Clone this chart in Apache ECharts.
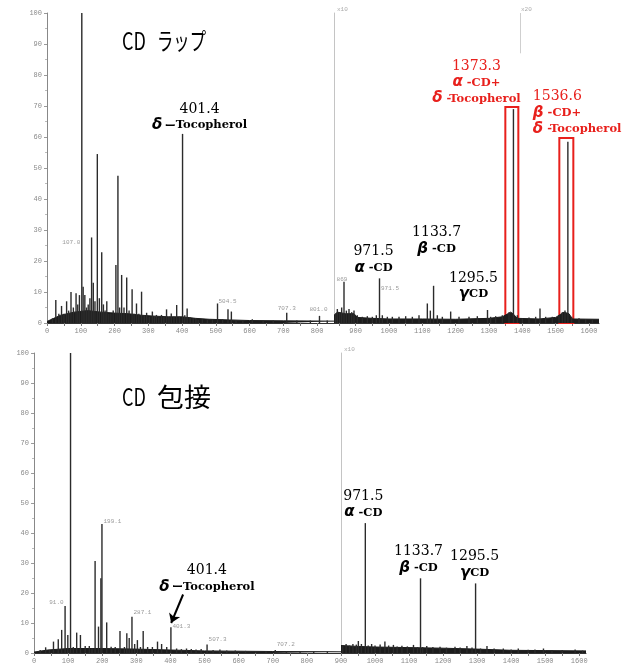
<!DOCTYPE html>
<html>
<head>
<meta charset="utf-8">
<script src="https://cdn.jsdelivr.net/npm/echarts@6/dist/echarts.min.js"></script>
<style>
html, body { margin: 0; padding: 0; background: #fff; }
#main { width: 632px; height: 666px; }
</style>
</head>
<body>
<div id="main"></div>
<script>
// peaks: [m/z, relative intensity %]
var topLeftPeaks = [
  [16,1.5],[26,7.4],[35,3],[43,5.5],[50,3],[58,7],[64,4],[71,10],[78,5],[86,9.6],[91,6],[96,9],
  [103,100],[107,11.7],[112,9],[117,5],[122,6],[127,8],[132,27.6],[137,13],[142,7],[149,54.5],
  [155,8],[162,22.8],[167,6],[172,4],[177,7],[183,3],[189,3],[196,4],[204,18.7],[210,47.5],
  [215,5],[221,15.5],[228,5],[236,14.7],[243,4],[252,10.9],[258,3],[265,6.3],[272,3],[280,10.1],
  [288,2.5],[295,3.3],[303,2],[312,3.7],[318,2],[324,2.6],[331,1.8],[339,2.6],[346,2],[354,4.4],
  [361,2],[368,3.1],[376,2],[384,5.8],[392,2],[401.4,61],[408,2.5],[415,4.7],[424,1.8],[433,1.5],
  [441,1.2],[448,1],[460,1.2],[475,1],[490,1.2],[505,6.3],[520,1.2],[536,4.4],[546,3.7],[560,1],
  [580,1],[608,1.2],[640,0.8],[670,0.8],[710,3.3],[740,0.8],[780,0.8],[807,2.3],[830,0.8]
];
var topRightPeaks = [
  [840,3],[845,4.5],[852,3.5],[858,5],[865,13.3],[872,4],[880,4.5],[888,3.5],[895,4],[905,2.5],
  [920,2],[935,2.2],[950,2],[962,2.5],[971.5,14.4],[980,2.5],[995,2],[1010,2],[1030,2],[1050,2.2],
  [1070,2],[1090,2.5],[1115,6.3],[1124,4],[1133.7,12],[1145,2.5],[1160,2],[1185,3.7],[1210,2],
  [1240,2],[1265,2.2],[1295.5,4.2],[1305,2],[1320,2.2],[1340,2.5],[1360,3.5],[1373.3,69],[1385,2.5],
  [1400,1.5],[1420,1.8],[1440,2],[1453,4.7],[1470,2],[1490,2],[1510,2.5],[1520,3.5],[1528,4],
  [1536.6,58.5],[1548,2],[1570,1.5],[1590,1.3],[1610,1.2]
];
var bottomLeftPeaks = [
  [18,1],[34,1.9],[45,1],[57,3.8],[71,4.6],[81,7.7],[91,15.7],[99,6],[107,100],[115,2],[125,6.8],
  [136,6],[150,2.3],[162,2.3],[170,1.5],[179,30.7],[189,8.8],[196,24.9],[199.1,43],[213,10.2],
  [226,2.1],[238,2],[252,7.3],[265,2],[272,6.6],[279,5],[287.1,12.1],[295,3],[303,4.3],[312,2],
  [320,7.3],[333,2],[347,2],[362,3.8],[374,3],[389,2],[401.3,8.6],[418,1.5],[432,1.3],[447,1.5],
  [461,1.3],[475,1.2],[490,1.3],[507.3,2.8],[525,1],[545,1.2],[565,0.8],[590,0.8],[620,0.7],
  [650,0.6],[680,0.6],[707.2,1],[740,0.6],[780,0.6],[820,0.5],[860,0.5]
];
var bottomRightPeaks = [
  [905,2.5],[915,3],[925,2.5],[935,3],[945,2.8],[951,4],[960,3],[971.5,43.3],[980,2.5],[990,3],
  [1000,2.5],[1015,2.8],[1029,3.8],[1040,2.5],[1054,2.7],[1065,2.2],[1079,2.4],[1095,2.2],
  [1113,2.7],[1125,2],[1133.7,24.9],[1140,2],[1152,2.3],[1170,2],[1191,2.1],[1210,1.8],[1235,2.1],
  [1250,1.8],[1270,2.3],[1285,1.8],[1295.5,23.2],[1310,1.5],[1329,2.3],[1350,1.5],[1377,1.5],
  [1400,1.2],[1421,1.5],[1450,1.1],[1470,1.2],[1495,1.5],[1520,1],[1550,1],[1588,1.2],[1610,0.8]
];

// noise floor ("grass") under the sticks
var topLeftFloor = [[0,0.5],[20,1.5],[40,2.5],[80,3.5],[120,4],[160,3.5],[200,3.2],[240,3],[280,2.5],
  [320,2.2],[360,2],[400,2],[440,1.5],[480,1.2],[540,1],[600,0.8],[700,0.7],[850,0.6]];
var topRightFloor = [[835,2.5],[845,3.5],[870,3],[895,3],[905,1.8],[950,1.5],[1000,1.3],[1100,1.3],
  [1200,1.2],[1300,1.5],[1340,2],[1365,3.5],[1372,3],[1385,1.5],[1450,1.3],[1500,1.8],[1525,3.5],
  [1540,3],[1550,1.3],[1630,1.2]];
var bottomLeftFloor = [[0,0.3],[40,1],[100,1.5],[200,1.5],[300,1.3],[400,1],[500,0.7],[700,0.5],[900,0.4]];
var bottomRightFloor = [[900,2.5],[950,2.2],[1000,2],[1100,1.8],[1200,1.6],[1300,1.3],[1400,0.9],
  [1500,0.8],[1620,0.7]];

// axis ticks
var xLabelsLeft = [0,100,200,300,400,500,600,700,800];
var xLabelsRight = [900,1000,1100,1200,1300,1400,1500,1600];
var xTicksLeft = [0,50,100,150,200,250,300,350,400,450,500,550,600,650,700,750,800];
var xTicksRight = [850,900,950,1000,1050,1100,1150,1200,1250,1300,1350,1400,1450,1500,1550,1600];

// annotations
var titles = ['CD', 'ラップ', 'CD', '包接'];
var topNotes = [
  '{n|401.4}\n{g|δ}{k| ー}{t|Tocopherol}',
  '{n|971.5}\n{g|α}{t| -CD}',
  '{n|1133.7}\n{g|β}{t| -CD}',
  '{n|1295.5}\n{g|γ}{t|CD}',
  '{n|1373.3}\n{g|α}{t| -CD+}\n{g|δ}{t| -Tocopherol}',
  '{n|1536.6}\n{g|β}{t| -CD+}\n{g|δ}{t| -Tocopherol}'
];
var bottomNotes = [
  '{n|401.4}\n{g|δ}{k| ー}{t|Tocopherol}',
  '{n|971.5}\n{g|α}{t| -CD}',
  '{n|1133.7}\n{g|β}{t| -CD}',
  '{n|1295.5}\n{g|γ}{t|CD}'
];
var topSmallLabels = ['107.0', '504.5', '707.3', '801.0', '869', '971.5'];
var bottomSmallLabels = ['91.0', '199.1', '287.1', '401.3', '507.3', '707.2'];

var RED = '#e8201c';

function rich(color) {
  return {
    n: {fontFamily: 'DejaVu Serif', fontSize: 14, lineHeight: 17, color: color},
    g: {fontFamily: 'DejaVu Sans', fontWeight: 'bold', fontStyle: 'italic', fontSize: 15, lineHeight: 16, color: color},
    k: {fontFamily: 'Noto Sans CJK JP', fontWeight: 'bold', fontSize: 11, lineHeight: 15, color: color},
    t: {fontFamily: 'DejaVu Serif', fontWeight: 'bold', fontSize: 11.5, lineHeight: 15, color: color}
  };
}

function note(coord, text, dx, dy, color, align) {
  return {
    coord: coord,
    label: {
      show: true, position: 'top', distance: 0, offset: [dx, dy],
      formatter: text, align: align || 'center', rich: rich(color || '#000')
    }
  };
}

function small(coord, text, pos, dx, dy) {
  return {
    coord: coord,
    label: {
      show: true, position: pos, distance: 1, offset: [dx, dy], formatter: text,
      fontFamily: 'Liberation Mono', fontSize: 6, color: '#9a9a9a'
    }
  };
}

function markPts(list) {
  return {
    symbol: 'circle', symbolSize: 1, silent: true,
    itemStyle: {color: 'rgba(0,0,0,0)'},
    data: list
  };
}

function sticks(idx, data, mp, extra) {
  var s = {
    type: 'bar', xAxisIndex: idx, yAxisIndex: idx, data: data, barWidth: 1.4,
    itemStyle: {color: '#2b2b2b'}, silent: true, z: 3, markPoint: mp
  };
  if (extra) {
    for (var k in extra) s[k] = extra[k];
  }
  return s;
}

function floor(idx, data) {
  return {
    type: 'line', xAxisIndex: idx, yAxisIndex: idx, data: data, symbol: 'none', silent: true,
    lineStyle: {width: 1, color: '#1c1c1c'}, areaStyle: {color: '#1c1c1c', opacity: 1}, z: 2
  };
}

function plain(v) {
  return String(v);
}

function xAxisCfg(idx, min, max, labels, ticks) {
  return {
    type: 'value', gridIndex: idx, min: min, max: max, splitLine: {show: false},
    axisLine: {lineStyle: {color: '#333', width: 1}},
    axisTick: {customValues: ticks, length: 3, lineStyle: {color: '#777'}},
    axisLabel: {customValues: labels, formatter: plain, fontSize: 7, color: '#8a8a8a', fontFamily: 'Liberation Mono', margin: 5}
  };
}

function yAxisCfg(idx, withLabels) {
  return {
    type: 'value', gridIndex: idx, min: 0, max: 100, interval: 10, splitLine: {show: false},
    axisLine: {show: true, lineStyle: {color: withLabels ? '#888' : '#c4c4c4'}},
    axisTick: {show: withLabels, length: 3, lineStyle: {color: '#999'}},
    minorTick: {show: withLabels, splitNumber: 2, length: 2, lineStyle: {color: '#bbb'}},
    axisLabel: {show: withLabels, fontSize: 7, color: '#8a8a8a', fontFamily: 'Liberation Mono', margin: 3}
  };
}

var chart = echarts.init(document.getElementById('main'));

var option = {
  backgroundColor: '#fff',
  animation: false,
  grid: [
    {left: 45, top: 13, width: 289, height: 310},
    {left: 334, top: 13, width: 265, height: 310},
    {left: 32, top: 353, width: 309, height: 300},
    {left: 341, top: 353, width: 245, height: 300}
  ],
  xAxis: [
    xAxisCfg(0, -6, 850, xLabelsLeft, xTicksLeft),
    xAxisCfg(1, 835, 1630, xLabelsRight, xTicksRight),
    xAxisCfg(2, -6, 900, xLabelsLeft, xTicksLeft),
    xAxisCfg(3, 900, 1620, xLabelsRight, xTicksRight.slice(1))
  ],
  yAxis: [yAxisCfg(0, true), yAxisCfg(1, false), yAxisCfg(2, true), yAxisCfg(3, false)],
  graphic: [
    {type: 'text', x: 122, y: 41, scaleX: 0.75, silent: true,
      style: {text: titles[0], fontSize: 24, fontFamily: 'Noto Sans CJK JP', fill: '#000', verticalAlign: 'middle'}},
    {type: 'text', x: 157, y: 41, scaleX: 0.68, silent: true,
      style: {text: titles[1], fontSize: 24, fontFamily: 'Noto Sans CJK JP', fill: '#000', verticalAlign: 'middle'}},
    {type: 'text', x: 122, y: 397, scaleX: 0.75, silent: true,
      style: {text: titles[2], fontSize: 24, fontFamily: 'Noto Sans CJK JP', fill: '#000', verticalAlign: 'middle'}},
    {type: 'text', x: 157, y: 397, scaleX: 1.04, silent: true,
      style: {text: titles[3], fontSize: 26, fontFamily: 'Noto Sans CJK JP', fill: '#000', verticalAlign: 'middle'}},
    {type: 'text', x: 337, y: 6, silent: true, style: {text: 'x10', fontSize: 6, fill: '#aaa', fontFamily: 'Liberation Mono'}},
    {type: 'text', x: 521, y: 6, silent: true, style: {text: 'x20', fontSize: 6, fill: '#aaa', fontFamily: 'Liberation Mono'}},
    {type: 'text', x: 344, y: 346, silent: true, style: {text: 'x10', fontSize: 6, fill: '#aaa', fontFamily: 'Liberation Mono'}}
  ],
  series: [
    floor(0, topLeftFloor),
    sticks(0, topLeftPeaks, markPts([
      note([401.4, 61], topNotes[0], 17, 0),
      small([103, 27], topSmallLabels[0], 'left', 0, 3),
      small([505, 6.3], topSmallLabels[1], 'top', 10, 2),
      small([710, 3.3], topSmallLabels[2], 'top', 0, 0),
      small([807, 2.3], topSmallLabels[3], 'top', -1, -2)
    ])),
    floor(1, topRightFloor),
    sticks(1, topRightPeaks, markPts([
      small([865, 13.3], topSmallLabels[4], 'top', -2, 2),
      small([971.5, 14.4], topSmallLabels[5], 'right', 0, 10),
      note([971.5, 14.4], topNotes[1], -6, -2),
      note([1133.7, 12], topNotes[2], 3, -28),
      note([1295.5, 4.2], topNotes[3], -14, -7),
      note([1373.3, 69], topNotes[4], -37, -2, RED),
      note([1536.6, 58.5], topNotes[5], -35, -4, RED, 'left')
    ]), {
      markArea: {
        silent: true,
        itemStyle: {color: 'rgba(0,0,0,0)', borderColor: RED, borderWidth: 2},
        data: [
          [{coord: [1349, 0]}, {coord: [1388, 69.7]}],
          [{coord: [1511, 0]}, {coord: [1553, 59.7]}]
        ]
      },
      markLine: {
        silent: true, symbol: 'none', label: {show: false},
        lineStyle: {color: '#cfcfcf', width: 1, type: 'solid'},
        data: [[{coord: [1394, 87]}, {coord: [1394, 100]}]]
      }
    }),
    floor(2, bottomLeftFloor),
    sticks(2, bottomLeftPeaks, markPts([
      note([401.3, 8.6], bottomNotes[0], 36, -32),
      small([91, 15.7], bottomSmallLabels[0], 'left', 0, -3),
      small([199.1, 43], bottomSmallLabels[1], 'right', 0, -3),
      small([287.1, 12.1], bottomSmallLabels[2], 'right', 0, -4),
      small([401.3, 8.6], bottomSmallLabels[3], 'right', 0, -1),
      small([507.3, 2.8], bottomSmallLabels[4], 'right', 0, -5),
      small([707.2, 1], bottomSmallLabels[5], 'right', 0, -6)
    ]), {
      markLine: {
        silent: true, symbol: ['none', 'arrow'], symbolSize: 9, label: {show: false},
        lineStyle: {color: '#000', width: 2, type: 'solid'},
        data: [[{coord: [437, 19.5]}, {coord: [402, 10]}]]
      }
    }),
    floor(3, bottomRightFloor),
    sticks(3, bottomRightPeaks, markPts([
      note([971.5, 43.3], bottomNotes[1], -2, -2),
      note([1133.7, 24.9], bottomNotes[2], -2, -2),
      note([1295.5, 23.2], bottomNotes[3], -1, -2)
    ]))
  ]
};

chart.setOption(option);
</script>
</body>
</html>
